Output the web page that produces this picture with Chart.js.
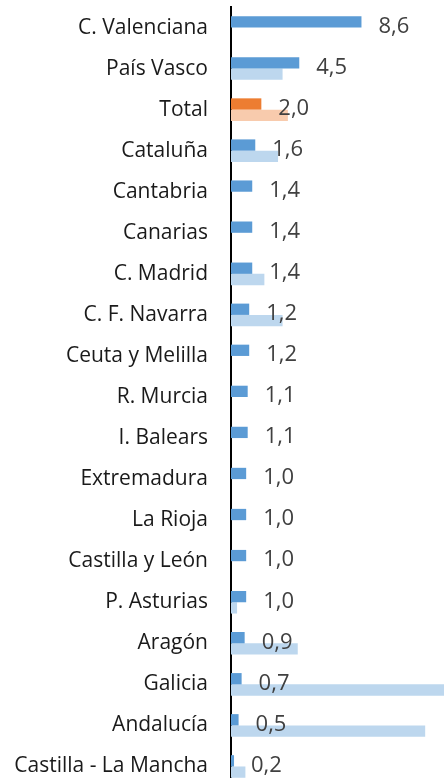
<!DOCTYPE html>
<html>
<head>
<meta charset="utf-8">
<script src="https://cdn.jsdelivr.net/npm/chart.js@4"></script>
<style>
  html, body { margin: 0; padding: 0; background: #fff; overflow: hidden; }
  #wrap { position: relative; width: 444px; height: 787px; }
</style>
</head>
<body>
<div id="wrap"><canvas id="chart"></canvas></div>
<script>
// categorías (de arriba abajo)
const categories = [
  "C. Valenciana", "País Vasco", "Total", "Cataluña", "Cantabria", "Canarias",
  "C. Madrid", "C. F. Navarra", "Ceuta y Melilla", "R. Murcia", "I. Balears",
  "Extremadura", "La Rioja", "Castilla y León", "P. Asturias", "Aragón",
  "Galicia", "Andalucía", "Castilla - La Mancha"
];
// serie principal (con etiquetas)
const mainValues = [8.6, 4.5, 2.0, 1.6, 1.4, 1.4, 1.4, 1.2, 1.2, 1.1, 1.1, 1.0, 1.0, 1.0, 1.0, 0.9, 0.7, 0.5, 0.2];
// serie secundaria (clara, sin etiquetas)
const secondValues = [0, 3.4, 3.75, 3.1, 0, 0, 2.2, 3.4, 0, 0, 0, 0, 0, 0, 0.4, 4.4, 15, 12.8, 0.95];

const totalIndex = categories.indexOf("Total");
const mainColors = categories.map((c, i) => i === totalIndex ? "#ED7D31" : "#5B9BD5");
const secondColors = categories.map((c, i) => i === totalIndex ? "#F8CBAD" : "#BDD7EE");

// etiquetas de valor con coma decimal
const valueLabels = {
  id: "valueLabels",
  afterDatasetsDraw(chart) {
    const ctx = chart.ctx;
    const meta = chart.getDatasetMeta(0);
    const yScale = chart.scales.y;
    ctx.save();
    ctx.font = "22px 'Open Sans', sans-serif";
    ctx.fillStyle = "#404040";
    ctx.textAlign = "left";
    ctx.textBaseline = "middle";
    meta.data.forEach((bar, i) => {
      const y = yScale.getPixelForValue(i) - 1;
      ctx.fillText(mainValues[i].toFixed(1).replace(".", ","), bar.x + 17, y);
    });
    ctx.restore();
  }
};

new Chart(document.getElementById("chart"), {
  type: "bar",
  data: {
    labels: categories,
    datasets: [
      { data: mainValues, backgroundColor: mainColors, barPercentage: 1, categoryPercentage: 0.55 },
      { data: secondValues, backgroundColor: secondColors, barPercentage: 1, categoryPercentage: 0.55 }
    ]
  },
  options: {
    indexAxis: "y",
    responsive: true,
    maintainAspectRatio: false,
    animation: false,
    layout: { padding: { top: 7, right: 0, bottom: 0, left: 0 } },
    plugins: { legend: { display: false }, tooltip: { enabled: false } },
    scales: {
      x: {
        display: false,
        min: 0,
        max: 14.04
      },
      y: {
        afterFit: (scale) => {
          scale.width = 231;
          // sin relleno extra arriba/abajo
          scale.paddingTop = 0;
          scale.paddingBottom = 0;
        },
        grid: { display: false, drawTicks: false },
        border: { display: true, color: "#000", width: 2 },
        ticks: {
          padding: 23,
          color: "#1a1a1a",
          font: { family: "'Open Sans', sans-serif", size: 21 }
        }
      }
    }
  },
  plugins: [valueLabels]
});
</script>
</body>
</html>
